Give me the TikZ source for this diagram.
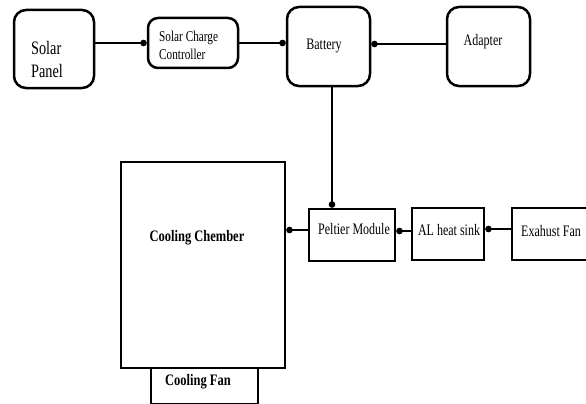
\documentclass[tikz,border=0pt]{standalone}
\usepackage{fontspec}
\setmainfont{Liberation Serif}
\newfontfamily\condfont[FakeStretch=0.75]{Liberation Serif}
\newfontfamily\condfontb[FakeStretch=0.78]{Liberation Serif}
\usetikzlibrary{arrows.meta}
\begin{document}
\begin{tikzpicture}[x=1pt,y=-1pt,
  rbox/.style={draw,line width=2.5pt,rounded corners=12pt,inner sep=0pt},
  sbox/.style={draw,line width=2.5pt,inner sep=0pt},
  txt/.style={font=\condfont\fontsize{16}{19}\selectfont,inner sep=0pt},
  btxt/.style={font=\condfontb\bfseries\fontsize{16}{19}\selectfont,inner sep=0pt},
  arr/.style={line width=2.3pt,-{Circle[length=6.5pt,width=6.5pt]}}]
\useasboundingbox (0,0) rectangle (586,404);
% boxes
\node[rbox,minimum width=80pt,minimum height=78pt] (sp) at (54,49) {};
\node[rbox,rounded corners=10pt,minimum width=90pt,minimum height=50pt] (scc) at (193,43) {};
\node[rbox,minimum width=83pt,minimum height=79pt] (bat) at (328.5,46.5) {};
\node[rbox,minimum width=83pt,minimum height=79pt] (ad) at (488.5,46.5) {};
\node[sbox,minimum width=164pt,minimum height=206pt] (cc) at (203,265) {};
\node[sbox,minimum width=107pt,minimum height=36pt] (cf) at (204.5,386) {};
\node[sbox,minimum width=86pt,minimum height=52pt] (pm) at (352,235) {};
\node[sbox,minimum width=72pt,minimum height=52pt] (al) at (448,234) {};
\node[sbox,minimum width=76pt,minimum height=52pt] (ef) at (550,234) {};
% texts
\node[txt,font=\condfont\fontsize{19}{23}\selectfont,align=left] (tsp) at (47,60) {Solar\\Panel};
\node[txt,font=\condfont\fontsize{15}{18}\selectfont,align=left,anchor=west] (tscc) at (159,45) {Solar Charge\\Controller};
\node[txt] (tbat) at (324,46) {Battery};
\node[txt] (tad) at (483,42) {Adapter};
\node[txt] (tpm) at (354,229) {Peltier Module};
\node[txt] (tal) at (449,230) {AL heat sink};
\node[txt] (tef) at (551,231) {Exahust Fan};
\node[btxt] (tcc) at (197,238) {Cooling Chember};
\node[btxt] (tcf) at (198,382) {Cooling Fan};
% connectors
\draw[arr] (sp.east |- 0,43) -- (scc.west |- 0,43);
\draw[arr] (scc.east |- 0,43) -- (bat.west |- 0,43);
\draw[arr] (ad.west |- 0,44) -- (bat.east |- 0,44);
\draw[arr] (bat.south -| 332,0) -- (pm.north -| 332,0);
\draw[arr] (pm.west |- 0,230) -- (cc.east |- 0,230);
\draw[arr] (al.west |- 0,231) -- (pm.east |- 0,231);
\draw[arr] (ef.west |- 0,229) -- (al.east |- 0,229);
\end{tikzpicture}
\end{document}
